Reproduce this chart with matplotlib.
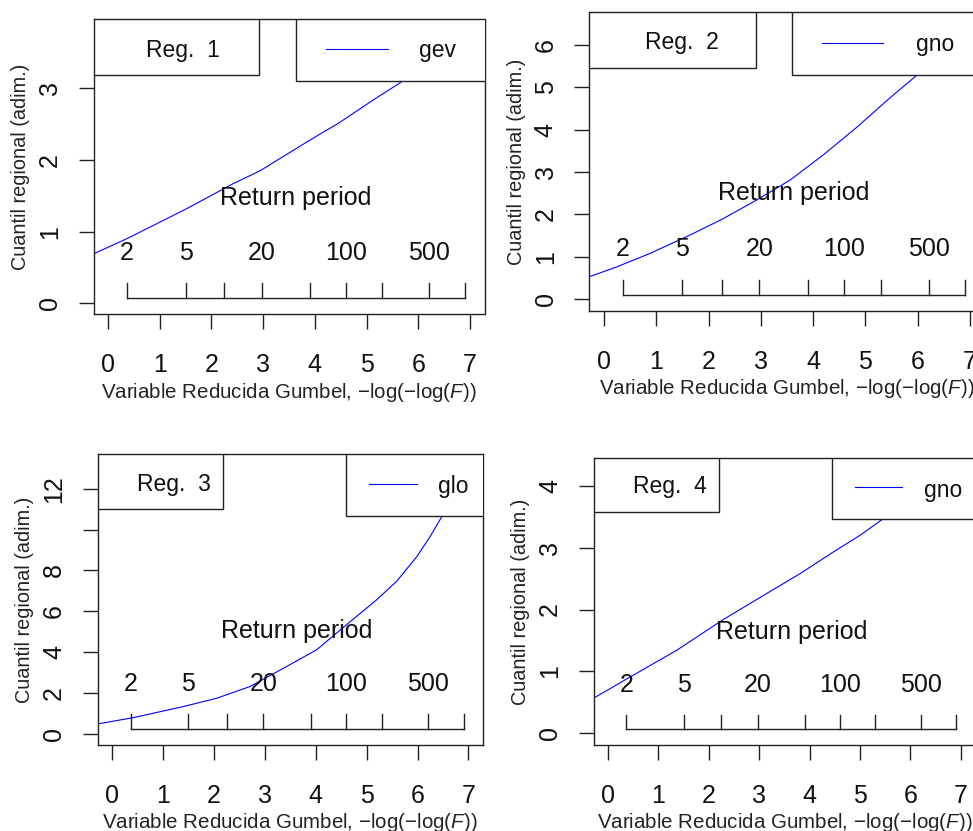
import numpy as np
import matplotlib
matplotlib.use("Agg")
import matplotlib.pyplot as plt
from matplotlib.patches import Rectangle
from matplotlib.transforms import Affine2D, blended_transform_factory

plt.rcParams["font.family"] = "Liberation Sans"
plt.rcParams["mathtext.fontset"] = "custom"
plt.rcParams["mathtext.rm"] = "Liberation Sans"
plt.rcParams["mathtext.it"] = "Liberation Sans:italic"

W, H = 973, 831

# ---- data ----
regions = ["Reg.  1", "Reg.  2", "Reg.  3", "Reg.  4"]
dists = ["gev", "gno", "glo", "gno"]

x1 = [-0.28, 0.36, 1.52, 2.42, 2.94, 3.84, 4.49, 5.13, 5.65, 6.10]
y1 = [0.69, 0.90, 1.32, 1.67, 1.85, 2.25, 2.53, 2.84, 3.08, 3.32]
x2 = [-0.28, 0.24, 0.88, 1.64, 2.28, 2.92, 3.56, 4.19, 4.83, 5.47, 5.98, 6.30]
y2 = [0.53, 0.76, 1.08, 1.51, 1.90, 2.34, 2.81, 3.40, 4.05, 4.75, 5.28, 5.65]
x3 = [-0.28, 0.42, 1.40, 2.06, 2.71, 3.37, 4.02, 4.68, 5.20, 5.59, 5.99, 6.25, 6.48, 6.70]
y3 = [0.49, 0.80, 1.34, 1.75, 2.32, 3.22, 4.12, 5.50, 6.57, 7.47, 8.69, 9.67, 10.65, 11.6]
x4 = [-0.28, 0.44, 1.36, 2.29, 3.15, 3.81, 4.47, 5.00, 5.43, 5.85]
y4 = [0.57, 0.91, 1.34, 1.84, 2.26, 2.58, 2.93, 3.20, 3.45, 3.70]
curves = [(x1, y1), (x2, y2), (x3, y3), (x4, y4)]

yticks = [[0, 1, 2, 3], [0, 1, 2, 3, 4, 5, 6], [0, 2, 4, 6, 8, 10, 12], [0, 1, 2, 3, 4]]
yticklabels = [["0", "1", "2", "3"], ["0", "1", "2", "3", "4", "5", "6"],
               ["0", "2", "4", "6", "8", "", "12"], ["0", "1", "2", "3", "4"]]
ylims = [(-0.15, 3.97), (-0.28, 6.78), (-0.54, 13.7), (-0.19, 4.45)]

rp_ticks = [2, 5, 10, 20, 50, 100, 200, 500, 1000]
rp_labels = [2, 5, 20, 100, 500]

# ---- layout in pixels (left, top, width, height) and box geometry ----
axes_px = [(93.5, 19, 391, 295), (589.4, 12, 395, 299),
           (97.7, 454, 385, 291), (593.9, 458, 381, 287)]
# reg box (right, bottom), text (x, y); legend box (left, bottom), line (x0, x1, y), text (x, y)
reg_box = [(259, 75, 183, 50), (756, 68, 682, 42), (223, 509, 174, 484), (719, 512, 670, 487)]
leg_box = [(296, 81, 326, 388, 49, 437, 51), (792, 75, 822, 883, 43, 935, 45),
           (346, 516, 369, 417, 484, 453, 486), (832, 519, 855, 902, 487, 943, 490)]

px = Affine2D().scale(1, -1).translate(0, H)


def gumbel(T):
    return -np.log(-np.log(1 - 1 / np.asarray(T, dtype=float)))


fig = plt.figure(figsize=(W / 100, H / 100), dpi=100)

for i in range(4):
    l, t, w, h = axes_px[i]
    ax = fig.add_axes([l / W, 1 - (t + h) / H, w / W, h / H])
    for s in ax.spines.values():
        s.set_linewidth(1.0)
        s.set_color("#222222")

    xs, ys = curves[i]
    ax.plot(xs, ys, color="blue", lw=0.8, zorder=2)

    ax.set_xlim(-0.28, 7.28)
    ax.set_ylim(*ylims[i])
    ax.set_xticks(range(8))
    ax.set_yticks(yticks[i])
    ax.set_yticklabels(yticklabels[i])
    ax.tick_params(direction="out", length=10.8, width=1.0, color="#222222",
                   labelsize=18, labelcolor="#111111")
    ax.tick_params(axis="x", pad=17)
    ax.tick_params(axis="y", labelrotation=90, pad=12)
    for lab in ax.get_yticklabels():
        lab.set_va("center")

    ax.set_xlabel(r"Variable Reducida Gumbel, $-\mathrm{log}(-\mathrm{log}(F))$",
                  fontsize=14.8, color="#222222", va="center")
    ax.xaxis.set_label_coords(0.5, -78 / h)
    ax.set_ylabel("Cuantil regional (adim.)", fontsize=14.3, color="#222222", va="center")
    ax.yaxis.set_label_coords(-73 / w, 0.5)

    # return period axis
    tr = blended_transform_factory(ax.transData, ax.transAxes)
    g = gumbel(rp_ticks)
    ax.plot([g[0], g[-1]], [0.055, 0.055], color="#222222", lw=1.0, transform=tr, zorder=2)
    for gx in g:
        ax.plot([gx, gx], [0.055, 0.105], color="#222222", lw=1.0, transform=tr, zorder=2)
    for T in rp_labels:
        ax.text(gumbel(T), 0.208, str(T), transform=tr, ha="center", va="center",
                fontsize=18, color="#111111")
    ax.text((g[0] + g[-1]) / 2, 0.393, "Return period", transform=tr, ha="center",
            va="center", fontsize=18, color="#111111")

    # region box
    rr, rb, rtx, rty = reg_box[i]
    ax.add_patch(Rectangle((l, t), rr - l, rb - t, transform=px, facecolor="white",
                           edgecolor="#222222", lw=1.0, zorder=4))
    ax.text(rtx, rty, regions[i], transform=px, ha="center", va="center",
            fontsize=16.5, color="#111111", zorder=5)

    # legend box
    ll, lb, lx0, lx1, ly, ltx, lty = leg_box[i]
    ax.add_patch(Rectangle((ll, t), l + w + 20 - ll, lb - t, transform=px, facecolor="white",
                           edgecolor="#222222", lw=1.0, zorder=4))
    ax.plot([lx0, lx1], [ly, ly], color="blue", lw=0.8, transform=px, zorder=5)
    ax.text(ltx, lty, dists[i], transform=px, ha="center", va="center",
            fontsize=16.5, color="#111111", zorder=5)

fig.savefig("out.png", dpi=100)
